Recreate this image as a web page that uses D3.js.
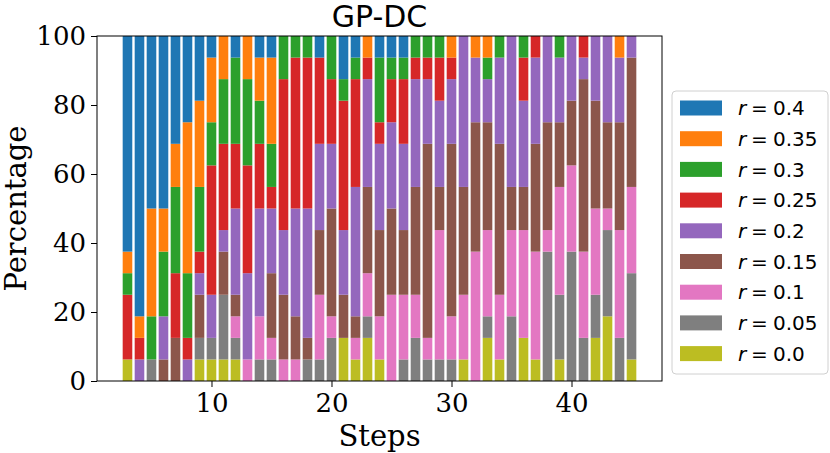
<!DOCTYPE html>
<html>
<head>
<meta charset="utf-8">
<script src="https://cdn.jsdelivr.net/npm/d3@7"></script>
<style>
  body { margin: 0; background: #fff; }
  svg { display: block; }
</style>
</head>
<body>
<div id="chart"></div>
<script>
// Steps on the x axis
var steps = d3.range(3, 46);

// Series keys (bottom of the stack first) and their colours
var keys = ["0.0", "0.05", "0.1", "0.15", "0.2", "0.25", "0.3", "0.35", "0.4"];
var colors = ["#bcbd22", "#7f7f7f", "#e377c2", "#8c564b", "#9467bd", "#d62728", "#2ca02c", "#ff7f0e", "#1f77b4"];

// Percentage per step for each r value (steps 3..45)
var r00 = [6.25, 0, 0, 0, 0, 0, 6.25, 6.25, 6.25, 6.25,
  0, 0, 0, 0, 0, 0, 0, 0, 12.5, 6.25,
  12.5, 6.25, 0, 0, 0, 0, 0, 0, 6.25, 0,
  12.5, 6.25, 0, 12.5, 6.25, 0, 6.25, 0, 0, 12.5,
  18.75, 0, 6.25];
var r005 = [0, 0, 6.25, 0, 0, 0, 6.25, 6.25, 18.75, 6.25,
  0, 6.25, 6.25, 0, 0, 6.25, 6.25, 12.5, 0, 0,
  6.25, 0, 0, 6.25, 12.5, 6.25, 6.25, 6.25, 0, 0,
  6.25, 0, 18.75, 0, 0, 37.5, 18.75, 37.5, 12.5, 12.5,
  25, 12.5, 25];
var r01 = [0, 0, 0, 0, 0, 0, 0, 0, 0, 6.25,
  6.25, 12.5, 6.25, 6.25, 6.25, 0, 18.75, 6.25, 0, 6.25,
  12.5, 12.5, 25, 18.75, 12.5, 6.25, 37.5, 12.5, 18.75, 37.5,
  25, 18.75, 25, 31.25, 31.25, 6.25, 31.25, 25, 25, 25,
  6.25, 31.25, 25];
var r015 = [0, 0, 0, 6.25, 12.5, 0, 12.5, 0, 12.5, 6.25,
  0, 0, 18.75, 18.75, 12.5, 6.25, 18.75, 31.25, 12.5, 6.25,
  25, 25, 25, 18.75, 31.25, 56.25, 12.5, 50, 31.25, 37.5,
  31.25, 43.75, 12.5, 12.5, 31.25, 31.25, 18.75, 18.75, 50, 31.25,
  25, 31.25, 37.5];
var r02 = [0, 6.25, 0, 12.5, 0, 6.25, 6.25, 12.5, 6.25, 25,
  25, 31.25, 18.75, 18.75, 31.25, 37.5, 25, 18.75, 18.75, 37.5,
  31.25, 25, 25, 25, 31.25, 18.75, 25, 18.75, 43.75, 18.75,
  12.5, 25, 43.75, 25, 25, 25, 18.75, 18.75, 6.25, 18.75,
  25, 18.75, 6.25];
var r025 = [18.75, 6.25, 0, 0, 18.75, 6.25, 6.25, 37.5, 25, 18.75,
  31.25, 18.75, 6.25, 43.75, 43.75, 43.75, 25, 18.75, 37.5, 31.25,
  6.25, 6.25, 12.5, 18.75, 6.25, 6.25, 12.5, 6.25, 0, 0,
  0, 0, 0, 12.5, 6.25, 0, 0, 0, 6.25, 0,
  0, 0, 0];
var r03 = [6.25, 0, 12.5, 18.75, 25, 18.75, 18.75, 12.5, 18.75, 25,
  25, 12.5, 12.5, 12.5, 6.25, 6.25, 0, 12.5, 6.25, 6.25,
  0, 18.75, 6.25, 6.25, 6.25, 6.25, 6.25, 0, 0, 0,
  6.25, 6.25, 0, 6.25, 0, 0, 6.25, 0, 0, 0,
  0, 0, 0];
var r035 = [6.25, 6.25, 31.25, 12.5, 12.5, 43.75, 25, 18.75, 12.5, 0,
  12.5, 12.5, 25, 0, 0, 0, 0, 0, 0, 0,
  6.25, 0, 0, 0, 0, 0, 0, 6.25, 0, 6.25,
  6.25, 0, 0, 0, 0, 0, 0, 0, 0, 0,
  0, 6.25, 0];
var r04 = [62.5, 81.25, 50, 50, 31.25, 25, 18.75, 6.25, 0, 6.25,
  0, 6.25, 6.25, 0, 0, 0, 6.25, 0, 12.5, 6.25,
  0, 6.25, 6.25, 6.25, 0, 0, 0, 0, 0, 0,
  0, 0, 0, 0, 0, 0, 0, 0, 0, 0,
  0, 0, 0];

var series = [r00, r005, r01, r015, r02, r025, r03, r035, r04];

var xTicks = [10, 20, 30, 40];
var yTicks = [0, 20, 40, 60, 80, 100];

// Build the table d3.stack needs
var table = steps.map(function(s, i) {
  var row = { step: s };
  keys.forEach(function(k, j) { row[k] = series[j][i]; });
  return row;
});

var width = 830, height = 453;
var margin = { left: 97, right: 168, top: 36, bottom: 72 };
var innerW = width - margin.left - margin.right;
var innerH = height - margin.top - margin.bottom;

var svg = d3.select("#chart").append("svg")
  .attr("width", width)
  .attr("height", height);

var g = svg.append("g").attr("transform", "translate(" + margin.left + "," + margin.top + ")");

// matplotlib style padding: bars span step +/- 0.4, then 5% margin
var barW = 0.8;
var lo = d3.min(steps) - barW / 2, hi = d3.max(steps) + barW / 2;
var pad = (hi - lo) * 0.05;
var x = d3.scaleLinear().domain([lo - pad, hi + pad]).range([0, innerW]);
var y = d3.scaleLinear().domain([0, 100]).range([innerH, 0]);
var color = d3.scaleOrdinal().domain(keys).range(colors);

var stacked = d3.stack().keys(keys)(table);

g.selectAll("g.layer")
  .data(stacked)
  .enter().append("g")
  .attr("class", "layer")
  .attr("fill", function(d) { return color(d.key); })
  .selectAll("rect")
  .data(function(d) { return d; })
  .enter().append("rect")
  .attr("x", function(d) { return x(d.data.step - barW / 2); })
  .attr("width", x(barW) - x(0))
  .attr("y", function(d) { return y(d[1]); })
  .attr("height", function(d) { return y(d[0]) - y(d[1]); });

// Axes
var tickFont = "'DejaVu Serif', serif";
var xAxis = g.append("g")
  .attr("transform", "translate(0," + innerH + ")")
  .call(d3.axisBottom(x).tickValues(xTicks).tickSize(6).tickPadding(5));
var yAxis = g.append("g")
  .call(d3.axisLeft(y).tickValues(yTicks).tickSize(6).tickPadding(5));

[xAxis, yAxis].forEach(function(a) {
  a.select(".domain").remove();
  a.selectAll("text").attr("font-family", tickFont).attr("font-size", 26).attr("fill", "#000");
  a.selectAll("line").attr("stroke", "#000").attr("stroke-width", 1);
});
xAxis.selectAll("text").attr("dy", "0.78em");

// Frame
g.append("rect")
  .attr("width", innerW)
  .attr("height", innerH)
  .attr("fill", "none")
  .attr("stroke", "#000")
  .attr("stroke-width", 1);

// Title and axis labels
g.append("text")
  .attr("x", innerW / 2)
  .attr("y", -9)
  .attr("text-anchor", "middle")
  .attr("font-family", "'DejaVu Sans', sans-serif")
  .attr("font-size", 30)
  .text("GP-DC");

g.append("text")
  .attr("x", innerW / 2)
  .attr("y", innerH + 65)
  .attr("text-anchor", "middle")
  .attr("font-family", tickFont)
  .attr("font-size", 29)
  .text("Steps");

g.append("text")
  .attr("transform", "translate(" + (-71) + "," + (innerH / 2) + ") rotate(-90)")
  .attr("text-anchor", "middle")
  .attr("font-family", tickFont)
  .attr("font-size", 29)
  .text("Percentage");

// Legend (top of stack listed first)
var legend = svg.append("g").attr("transform", "translate(672,91)");
legend.append("rect")
  .attr("width", 156)
  .attr("height", 283)
  .attr("rx", 4)
  .attr("fill", "#fff")
  .attr("stroke", "#d0d0d0")
  .attr("stroke-width", 1);

var items = keys.slice().reverse();
var item = legend.selectAll("g.item")
  .data(items)
  .enter().append("g")
  .attr("class", "item")
  .attr("transform", function(d, i) { return "translate(0," + (17 + i * 30.7) + ")"; });

item.append("rect")
  .attr("x", 8)
  .attr("y", -7.5)
  .attr("width", 42)
  .attr("height", 15)
  .attr("fill", function(d) { return color(d); });

var label = item.append("text")
  .attr("font-family", "'DejaVu Sans', sans-serif")
  .attr("font-size", 20)
  .attr("dy", "0.36em");
label.append("tspan").attr("x", 66).attr("font-style", "italic").text("r");
label.append("tspan").attr("x", 79).text("=");
label.append("tspan").attr("x", 101).text(function(d) { return d; });
</script>
</body>
</html>
